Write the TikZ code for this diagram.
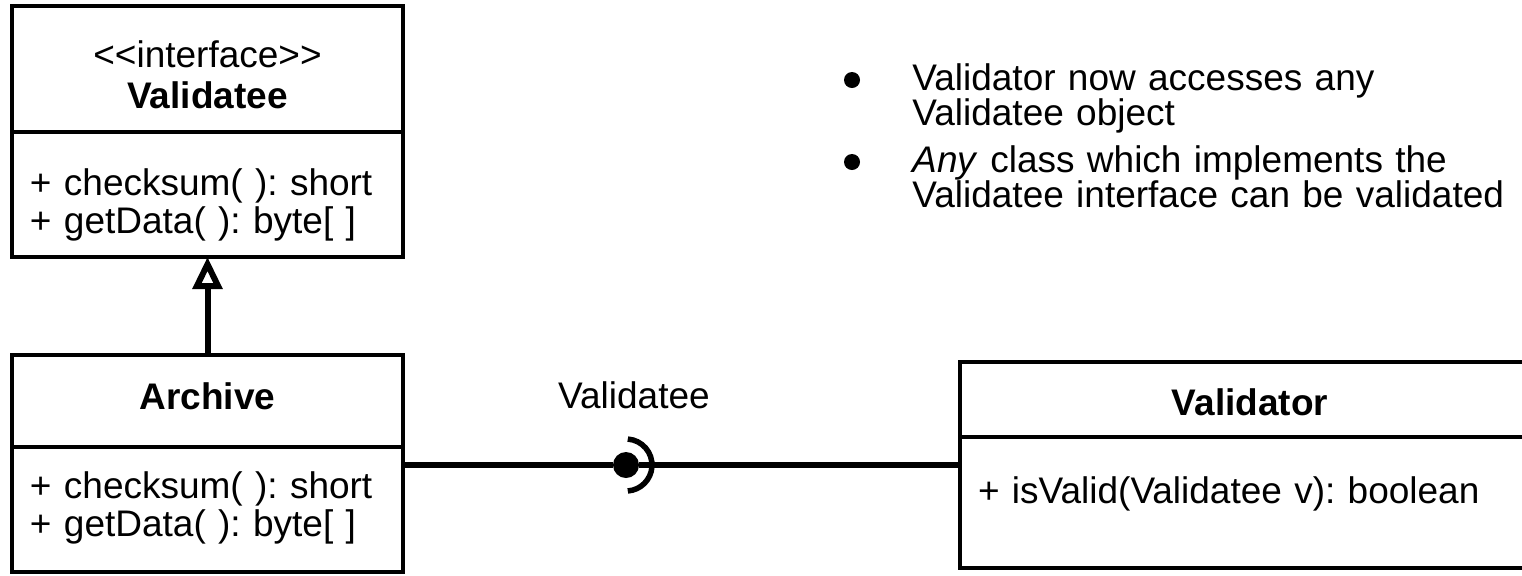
\documentclass[tikz,border=0pt]{standalone}
\usepackage{fontspec}
\setmainfont{Liberation Sans}
\usetikzlibrary{positioning, arrows.meta}
\frenchspacing

\begin{document}
\begin{tikzpicture}[x=0.5pt, y=-0.5pt]
		\tikzset{
			classhead/.style={draw, line width=2pt, outer sep=0pt, inner ysep=0pt, inner xsep=9pt, align=center, font=\fontsize{18.5}{20.5}\selectfont},
			classbody/.style={draw, line width=2pt, outer sep=0pt, inner ysep=0pt, inner xsep=9pt, align=left, font=\fontsize{18.5}{19}\selectfont},
			conn/.style={line width=2.75pt},
			ballnode/.style={circle, fill, inner sep=0pt, minimum size=13pt},
			bulletdot/.style={circle, fill, inner sep=0pt, minimum size=8pt},
			note/.style={align=left, inner sep=0pt, text width=330pt, font=\fontsize{18.5}{17.5}\selectfont}
		}
		\clip (0,0) rectangle (1522,575);
		
		% Interface
		\node[classhead, text width=177.5pt, text height=30.5pt, text depth=32.5pt, anchor=north west] (vtee-head) at (12,6) {<{}<interface>{}>\\ \textbf{Validatee}};
		\node[classbody, text width=177.5pt, text height=31.5pt, text depth=31pt, below=0pt of vtee-head] (vtee-body) {+ checksum( ): short\\+ getData( ): byte[ ]};
		
		% Archive class
		\node[classhead, text width=177.5pt, text height=27pt, text depth=19pt, anchor=north west] (arch-head) at (12,355) {\textbf{Archive}};
		\node[classbody, text width=177.5pt, text height=25.5pt, text depth=37pt, below=0pt of arch-head] (arch-body) {+ checksum( ): short\\+ getData( ): byte[ ]};
		
		% Validator class
		\node[classhead, text width=272pt, text height=26.5pt, text depth=11pt, anchor=north west] (vtor-head) at (960,362) {\textbf{Validator}};
		\node[classbody, text width=272pt, text height=33pt, text depth=32.5pt, below=0pt of vtor-head] (vtor-body) {+ isValid(Validatee v): boolean};
		
		% Realization
		\draw[line width=3pt, -{Triangle[open, length=16pt, width=14.5pt]}] (arch-head.north) -- (vtee-body.south);
		
		% Provided / required interface
		\node[ballnode] (ball) at (626,465) {};
		\draw[conn] (arch-body.east |- ball) -- (ball);
		\draw[conn] (ball) -- (ball -| vtor-body.west);
		\draw[conn] ([shift={(86:13pt)}]ball.center) arc[start angle=86, end angle=-86, radius=13pt];
		\node[anchor=base, font=\fontsize{18.5}{20}\selectfont] (iface-lbl) at (634,408) {Validatee};
		
		% Notes
		\node[bulletdot] (dot1) at (852,80) {};
		\node[note, anchor=base west] (note1) at (912,90) {Validator now accesses any\\Validatee object};
		\node[bulletdot] (dot2) at (852,162) {};
		\node[note, anchor=base west] (note2) at (912,172) {\textit{Any} class which implements the\\Validatee interface can be validated};
		
	\end{tikzpicture}
\end{document}
